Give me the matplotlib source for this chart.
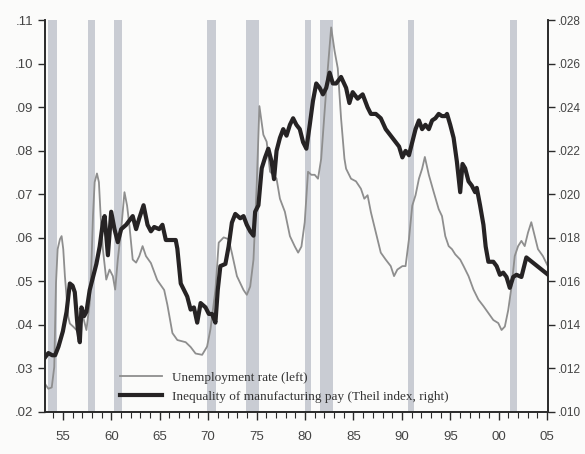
import matplotlib.pyplot as plt

# unemployment rate (left axis)
unemp_years = [1953.16, 1953.50, 1953.85, 1954.11, 1954.29, 1954.46, 1954.70, 1954.87,
               1955.04, 1955.21, 1955.38, 1955.55, 1955.72, 1956.06, 1956.41, 1956.75,
               1957.08, 1957.43, 1957.77, 1957.94, 1958.11, 1958.28, 1958.52, 1958.72,
               1958.90, 1959.13, 1959.48, 1959.82, 1960.16, 1960.40, 1960.67, 1961.02,
               1961.36, 1961.63, 1961.87, 1962.21, 1962.56, 1962.89, 1963.23, 1963.58,
               1964.09, 1964.74, 1965.46, 1965.79, 1966.31, 1966.82, 1967.68, 1968.19,
               1968.70, 1969.38, 1969.89, 1970.24, 1970.75, 1971.09, 1971.60, 1972.11,
               1972.45, 1972.97, 1973.65, 1973.99, 1974.34, 1974.68, 1975.01, 1975.29,
               1975.70, 1976.04, 1976.39, 1976.73, 1977.06, 1977.41, 1977.92, 1978.44,
               1978.95, 1979.29, 1979.63, 1979.97, 1980.31, 1980.65, 1981.00, 1981.34,
               1981.67, 1982.02, 1982.36, 1982.70, 1983.05, 1983.38, 1983.72, 1984.07,
               1984.24, 1984.75, 1985.26, 1985.77, 1986.12, 1986.46, 1986.80, 1987.31,
               1987.82, 1988.33, 1988.85, 1989.19, 1989.53, 1990.05, 1990.38, 1990.73,
               1991.07, 1991.41, 1991.76, 1992.09, 1992.37, 1992.78, 1993.29, 1993.80,
               1994.14, 1994.48, 1994.83, 1995.17, 1995.51, 1996.02, 1996.37, 1996.88,
               1997.39, 1997.90, 1998.42, 1998.93, 1999.44, 1999.95, 2000.29, 2000.63,
               2000.98, 2001.32, 2001.65, 2002.00, 2002.34, 2002.68, 2003.02, 2003.36,
               2003.70, 2004.05, 2004.56, 2005.07]
unemp = [.0264, .0253, .0256, .0303, .0496, .0574, .0597, .0604,
         .0574, .0512, .0465, .0419, .0403, .0396, .0388, .0396,
         .0419, .0388, .0450, .0535, .0651, .0728, .0748, .0728,
         .0651, .0574, .0504, .0527, .0512, .0481, .0550, .0620,
         .0705, .0674, .0628, .0550, .0543, .0558, .0581, .0558,
         .0542, .0503, .0480, .0446, .0381, .0365, .0360, .0349,
         .0334, .0331, .0350, .0390, .0480, .0589, .0601, .0597,
         .0565, .0512, .0480, .0469, .0488, .0550, .0720, .0903,
         .0837, .0821, .0752, .0745, .0736, .0690, .0660, .0604,
         .0580, .0566, .0580, .0636, .0752, .0745, .0745, .0736,
         .0782, .0890, .0991, .1084, .1030, .0990, .0875, .0782,
         .0759, .0736, .0730, .0713, .0690, .0698, .0659, .0612,
         .0566, .0550, .0535, .0512, .0527, .0535, .0535, .0597,
         .0674, .0698, .0736, .0759, .0786, .0745, .0705, .0666,
         .0650, .0604, .0581, .0574, .0562, .0550, .0535, .0512,
         .0481, .0458, .0443, .0427, .0411, .0404, .0388, .0396,
         .0434, .0488, .0558, .0581, .0593, .0581, .0612, .0636,
         .0605, .0574, .0558, .0535]

# Theil index of manufacturing pay (right axis)
theil_years = [1953.16, 1953.50, 1953.90, 1954.20, 1954.55, 1955.00, 1955.38, 1955.72,
               1956.00, 1956.23, 1956.54, 1956.75, 1956.92, 1957.19, 1957.43, 1957.77,
               1958.11, 1958.46, 1958.80, 1959.13, 1959.31, 1959.65, 1959.99, 1960.33,
               1960.67, 1961.02, 1961.53, 1962.21, 1962.56, 1962.89, 1963.33, 1963.74,
               1964.09, 1964.43, 1964.94, 1965.28, 1965.63, 1966.14, 1966.65, 1966.82,
               1967.17, 1967.50, 1967.84, 1968.19, 1968.53, 1968.87, 1969.22, 1969.73,
               1970.07, 1970.40, 1970.75, 1970.99, 1971.26, 1971.78, 1972.11, 1972.45,
               1972.80, 1973.31, 1973.65, 1973.99, 1974.34, 1974.68, 1974.85, 1975.19,
               1975.53, 1975.88, 1976.21, 1976.55, 1976.80, 1977.06, 1977.41, 1977.75,
               1978.09, 1978.44, 1978.77, 1979.11, 1979.46, 1979.80, 1980.14, 1980.49,
               1980.82, 1981.16, 1981.51, 1981.85, 1982.19, 1982.54, 1982.87, 1983.21,
               1983.72, 1984.24, 1984.58, 1984.92, 1985.43, 1985.95, 1986.46, 1986.80,
               1987.31, 1987.82, 1988.33, 1988.85, 1989.36, 1989.71, 1990.05, 1990.38,
               1990.73, 1991.07, 1991.41, 1991.76, 1992.09, 1992.43, 1992.78, 1993.12,
               1993.46, 1993.80, 1994.14, 1994.48, 1994.66, 1994.99, 1995.34, 1995.68,
               1996.02, 1996.26, 1996.53, 1996.88, 1997.22, 1997.56, 1997.73, 1998.07,
               1998.42, 1998.65, 1998.93, 1999.44, 1999.78, 2000.12, 2000.46, 2000.80,
               2001.14, 2001.49, 2001.83, 2002.34, 2002.85, 2005.10]
theil = [.0125, .0127, .0126, .0126, .0130, .0137, .0146, .0159,
         .0158, .0155, .0138, .0132, .0148, .0144, .0146, .0156,
         .0162, .0168, .0176, .0187, .0190, .0172, .0192, .0184,
         .0178, .0184, .0186, .0190, .0184, .0189, .0195, .0186,
         .0183, .0185, .0184, .0186, .0179, .0179, .0179, .0175,
         .0159, .0156, .0153, .0147, .0148, .0141, .0150, .0148,
         .0145, .0145, .0141, .0156, .0167, .0168, .0176, .0187,
         .0191, .0189, .0190, .0186, .0183, .0181, .0192, .0195,
         .0212, .0217, .0221, .0215, .0207, .0220, .0226, .0230,
         .0227, .0232, .0235, .0232, .0230, .0224, .0221, .0232,
         .0243, .0251, .0249, .0246, .0249, .0256, .0251, .0251,
         .0254, .0249, .0242, .0247, .0244, .0246, .0240, .0237,
         .0237, .0235, .0230, .0227, .0224, .0222, .0217, .0220,
         .0218, .0224, .0230, .0234, .0230, .0232, .0230, .0234,
         .0235, .0237, .0236, .0236, .0237, .0232, .0226, .0215,
         .0201, .0214, .0212, .0206, .0204, .0201, .0203, .0195,
         .0186, .0176, .0169, .0169, .0167, .0163, .0164, .0162,
         .0157, .0162, .0163, .0162, .0171, .0163]

# recession shading (start, end)
recessions = [(1953.5, 1954.4), (1957.6, 1958.3), (1960.3, 1961.1), (1969.9, 1970.8),
              (1973.9, 1975.2), (1980.0, 1980.6), (1981.5, 1982.9), (1990.6, 1991.2),
              (2001.2, 2001.9)]

left_ticks = [.02, .03, .04, .05, .06, .07, .08, .09, .10, .11]
right_ticks = [.010, .012, .014, .016, .018, .020, .022, .024, .026, .028]
year_ticks = [1955, 1960, 1965, 1970, 1975, 1980, 1985, 1990, 1995, 2000, 2005]


def fmt(v, nd):
    return ('%.' + str(nd) + 'f') % v


fig = plt.figure(figsize=(5.85, 4.54), dpi=100)
fig.patch.set_facecolor('#fbfbfa')
ax = fig.add_axes([0.077, 0.093, 0.860, 0.862])
ax.set_facecolor('#fbfbfa')

for a, b in recessions:
    ax.axvspan(a, b, color='#c9ccd3', lw=0, zorder=0)

g, = ax.plot(unemp_years, unemp, color='#8e8e8e', lw=1.3, zorder=2,
             label='Unemployment rate (left)')
ax.set_xlim(1953.16, 2005.1)
ax.set_ylim(.02, .11)

# twin axis drawn on top, so the thick line sits over the bars and the grey line
ax2 = ax.twinx()
k, = ax2.plot(theil_years, theil, color='#262324', lw=3.0, zorder=3,
              label='Inequality of manufacturing pay (Theil index, right)')
ax2.set_ylim(.010, .028)

ax.set_yticks(left_ticks)
ax.set_yticklabels([fmt(v, 2)[1:] for v in left_ticks])
ax2.set_yticks(right_ticks)
ax2.set_yticklabels([fmt(v, 3)[1:] for v in right_ticks])
ax.set_xticks(year_ticks)
ax.set_xticklabels(['%02d' % (y % 100) for y in year_ticks])
ax.set_xticks(range(1954, 2006), minor=True)

for a in (ax, ax2):
    a.spines['top'].set_visible(False)
    for s in ('left', 'right', 'bottom'):
        a.spines[s].set_color('#2a2a2a')
        a.spines[s].set_linewidth(1.2)
    a.tick_params(colors='#2a2a2a', labelcolor='#444444', labelsize=9.5,
                  length=5, width=1)
    for t in a.get_yticklabels() + a.get_xticklabels():
        t.set_fontfamily('Liberation Sans')
ax2.tick_params(axis='y', labelsize=8.5, pad=2)
ax.tick_params(axis='x', which='minor', length=4, width=0.8, colors='#2a2a2a')
ax.tick_params(axis='x', which='major', length=6, pad=8)

leg = ax2.legend(handles=[g, k], loc='lower left', bbox_to_anchor=(0.13, 0.0),
                 frameon=False, handlelength=3.2, borderaxespad=0.3,
                 prop={'family': 'Liberation Serif', 'size': 9.5})
for t in leg.get_texts():
    t.set_color('#333333')

fig.savefig('out.png', dpi=100)
